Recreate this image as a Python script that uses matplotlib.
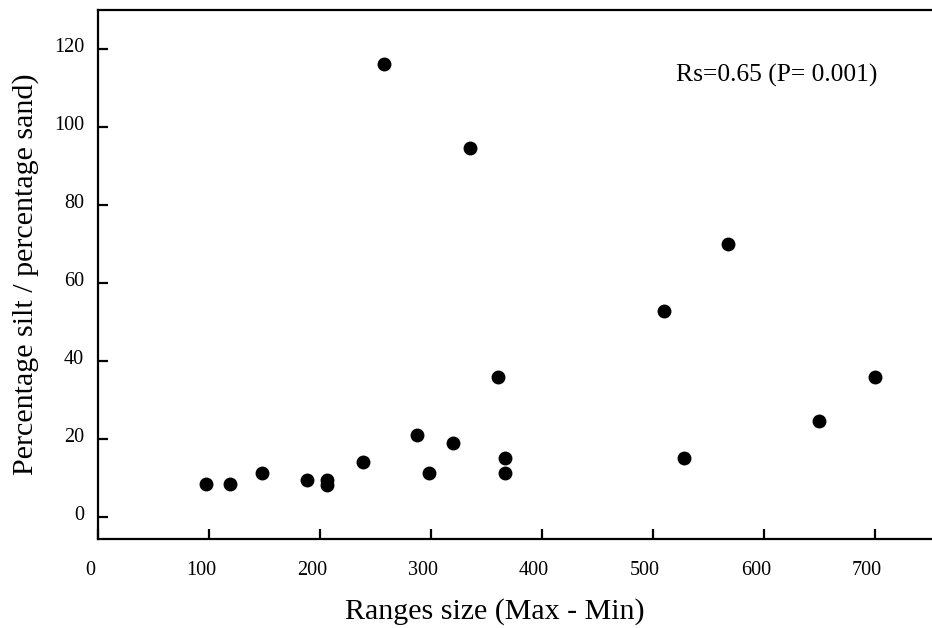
import matplotlib
matplotlib.use("Agg")
import matplotlib.pyplot as plt
from matplotlib.transforms import ScaledTranslation

plt.rcParams['font.family'] = ['Liberation Serif', 'DejaVu Serif']

# range size (max - min) vs silt/sand percentage
range_size = [97, 119, 148, 188, 206, 206, 239, 258, 287, 298, 320, 335,
              360, 367, 367, 510, 528, 568, 650, 700]
silt_sand = [8.5, 8.5, 11.4, 9.5, 9.6, 8.4, 14.3, 116.2, 21.0, 11.4, 19.1, 94.7,
             36.0, 15.1, 11.4, 53.0, 15.3, 70.1, 24.7, 36.0]

xticks = [0, 100, 200, 300, 400, 500, 600, 700]
yticks = [0, 20, 40, 60, 80, 100, 120]
stat_text = "Rs=0.65 (P= 0.001)"

fig = plt.figure(figsize=(9.32, 6.28), dpi=100)
ax = fig.add_axes([98/932, 1 - 538.7/628, 834/932, 528.7/628])

ax.plot(range_size, silt_sand, 'o', color='black', ms=9, mec='black')

ax.set_xlim(0, 751.4)
ax.set_ylim(-5.5, 130.1)
ax.set_xticks(xticks)
ax.set_yticks(yticks)
ax.tick_params(direction='in', length=7, width=1.6, labelsize=14.5)
ax.tick_params(axis='x', pad=16)
ax.tick_params(axis='y', pad=10)
ax.spines['right'].set_visible(False)
for s in ['left', 'bottom', 'top']:
    ax.spines[s].set_linewidth(1.6)

# labels in the original sit a bit left of their ticks
for lab in ax.get_xticklabels():
    lab.set_transform(lab.get_transform() + ScaledTranslation(-0.08, 0, fig.dpi_scale_trans))
for lab in ax.get_yticklabels():
    lab.set_transform(lab.get_transform() + ScaledTranslation(0, 0.04, fig.dpi_scale_trans))

ax.text(521, 113.4, stat_text, ha='left', va='center', fontsize=18.4)

fig.text(495/932, 1 - 612/628, "Ranges size (Max - Min)", ha='center', va='center', fontsize=21.6)
fig.text(26/932, 1 - 274/628, "Percentage silt / percentage sand)", ha='center', va='center',
         rotation=90, fontsize=21.6)

fig.savefig("out.png", dpi=100)
